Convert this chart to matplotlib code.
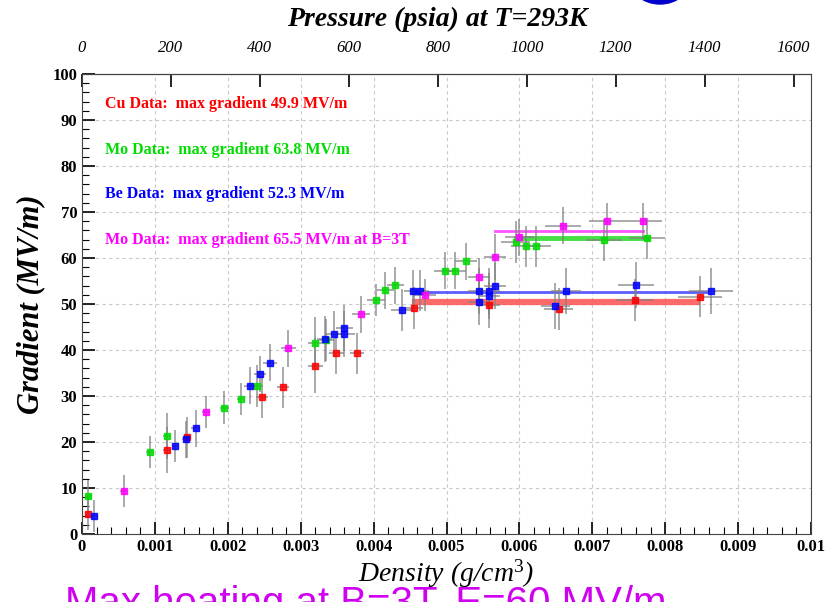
import numpy as np
import matplotlib.pyplot as plt
from matplotlib.patches import Ellipse
from matplotlib.ticker import MultipleLocator

plt.rcParams['font.family'] = ['Liberation Serif', 'DejaVu Serif']
plt.rcParams['mathtext.fontset'] = 'custom'
plt.rcParams['mathtext.rm'] = 'Liberation Serif'
plt.rcParams['mathtext.it'] = 'Liberation Serif:italic'

# Cu data (red)
cu_d = [0.000086, 0.00116, 0.00144, 0.00247, 0.00276, 0.0032, 0.00349, 0.00377,
        0.00456, 0.00558, 0.00654, 0.00758, 0.00848]
cu_g = [4.4, 18.3, 21.0, 29.8, 31.9, 36.6, 39.3, 39.3, 49.1, 49.8, 48.9, 50.9, 51.6]
cu_dx = [0.00005, 0.00005, 0.00005, 0.00008, 0.00008, 0.0001, 0.0001, 0.0001,
         0.00012, 0.00015, 0.0002, 0.00025, 0.0003]
cu_dy = [3.5, 5.0, 4.5, 4.5, 4.5, 6.0, 4.5, 4.5, 4.5, 5.0, 4.5, 4.5, 4.5]

# Mo data (green)
mo_d = [0.000086, 0.00093, 0.00116, 0.00195, 0.00218, 0.0024, 0.0032, 0.00335,
        0.00403, 0.00416, 0.0043, 0.00498, 0.00512, 0.00527, 0.00595, 0.00609,
        0.00623, 0.00716, 0.00775]
mo_g = [8.3, 17.9, 21.2, 27.5, 29.3, 32.2, 41.6, 42.2, 50.9, 53.0, 54.1, 57.2,
        57.2, 59.3, 63.5, 62.5, 62.5, 63.9, 64.3]
mo_dx = [0.00005, 0.00005, 0.00005, 0.00006, 0.00006, 0.00008, 0.0001, 0.0001,
         0.00012, 0.00012, 0.00012, 0.00015, 0.00015, 0.00015, 0.0002, 0.0002,
         0.0002, 0.00025, 0.00025]
mo_dy = [3.5, 3.5, 5.0, 3.5, 3.5, 4.5, 5.5, 4.5, 3.5, 4.0, 4.0, 4.0, 4.0, 4.0,
         4.5, 4.5, 4.5, 4.5, 4.5]

# Be data (blue)
be_d = [0.00017, 0.00128, 0.00142, 0.00156, 0.0023, 0.00244, 0.00258, 0.00333,
        0.00346, 0.0036, 0.0036, 0.00439, 0.00454, 0.00464, 0.00544, 0.00544,
        0.00558, 0.00558, 0.00567, 0.00649, 0.00664, 0.0076, 0.00863]
be_g = [3.9, 19.1, 20.6, 23.0, 32.2, 34.8, 37.2, 42.4, 43.4, 44.7, 43.4, 48.7,
        52.9, 52.9, 52.9, 50.5, 52.9, 51.7, 54.0, 49.6, 52.9, 54.1, 52.9]
be_dx = [0.00005, 0.00005, 0.00005, 0.00006, 0.00008, 0.00008, 0.0001, 0.0001,
         0.00012, 0.00012, 0.00015, 0.00015, 0.00012, 0.00012, 0.00015, 0.00015,
         0.00015, 0.00015, 0.00015, 0.0002, 0.0002, 0.00025, 0.0003]
be_dy = [3.5, 3.5, 4.0, 4.0, 4.0, 4.0, 4.0, 5.0, 5.0, 5.0, 5.0, 4.5, 4.5, 4.5,
         5.0, 5.0, 5.0, 5.0, 5.0, 5.0, 5.0, 5.0, 5.0]

# Mo data at B=3T (magenta)
mb_d = [0.00057, 0.0017, 0.00283, 0.00383, 0.0047, 0.00544, 0.00567, 0.006,
        0.0066, 0.0072, 0.0077]
mb_g = [9.3, 26.5, 40.4, 47.8, 52.0, 55.9, 60.3, 64.5, 67.0, 68.0, 68.0]
mb_dx = [0.00005, 0.00006, 0.0001, 0.00012, 0.00015, 0.00015, 0.00015, 0.0002,
         0.00025, 0.00025, 0.00025]
mb_dy = [3.5, 3.5, 4.0, 4.0, 3.5, 4.0, 5.0, 4.0, 4.0, 4.0, 4.0]

# max gradient bands: (start density, end density, level)
cu_band = (0.00457, 0.00843, 50.5)
be_band = (0.00454, 0.00856, 52.6)
mo_band = (0.00595, 0.00775, 64.3)
mb_band = (0.00567, 0.00770, 65.8)

labels = ["Cu Data:  max gradient 49.9 MV/m",
          "Mo Data:  max gradient 63.8 MV/m",
          "Be Data:  max gradient 52.3 MV/m",
          "Mo Data:  max gradient 65.5 MV/m at B=3T"]
colors = ["#ff0000", "#00dd00", "#0000ff", "#ff00ff"]

psia_per_density = 1.0 / 6.1e-6

fig = plt.figure(figsize=(8.27, 6.02), dpi=100)
ax = fig.add_axes([82 / 827, 1 - 534 / 602, 729 / 827, 460 / 602])

# bands first, points on top
ax.plot(cu_band[:2], [cu_band[2]] * 2, color="#ff5050", lw=4.5, alpha=0.85, zorder=2)
ax.plot(be_band[:2], [be_band[2]] * 2, color="#4040ff", lw=2.0, alpha=0.85, zorder=2)
ax.plot(mo_band[:2], [mo_band[2]] * 2, color="#30dd30", lw=3.5, alpha=0.9, zorder=2)
ax.plot(mb_band[:2], [mb_band[2]] * 2, color="#ff40ff", lw=2.0, alpha=0.9, zorder=2)

series = [(cu_d, cu_g, cu_dx, cu_dy), (mo_d, mo_g, mo_dx, mo_dy),
          (be_d, be_g, be_dx, be_dy), (mb_d, mb_g, mb_dx, mb_dy)]
for (d, g, dx, dy), c in zip(series, colors):
    ax.errorbar(d, g, xerr=dx, yerr=dy, fmt='s', ms=4, mfc=c, mec=c,
                ecolor="#808080", elinewidth=1.1, capsize=0, alpha=0.85, zorder=3)

ax.set_xlim(0, 0.01)
ax.set_ylim(0, 100)
ax.xaxis.set_major_locator(MultipleLocator(0.001))
ax.xaxis.set_minor_locator(MultipleLocator(0.0002))
ax.yaxis.set_major_locator(MultipleLocator(10))
ax.yaxis.set_minor_locator(MultipleLocator(2))
ax.xaxis.set_major_formatter(plt.FuncFormatter(
    lambda v, p: "0" if v == 0 else ("0.01" if abs(v - 0.01) < 1e-9 else f"{v:.3f}")))
ax.tick_params(axis='both', which='major', direction='in', length=9, width=1.2,
               labelsize=12)
ax.tick_params(axis='both', which='minor', direction='in', length=5, width=0.8)
ax.tick_params(top=False, right=False, which='both')
for lab in ax.get_xticklabels() + ax.get_yticklabels():
    lab.set_fontweight('bold')
ax.grid(True, which='major', linestyle=(0, (3, 3)), color="#c8c8c8", lw=0.8)
for s in ax.spines.values():
    s.set_color("#444444")

ax.set_xlabel("Density (g/cm$^3$)", fontsize=20, fontstyle='italic', labelpad=2)
ax.set_ylabel("Gradient (MV/m)", fontsize=22, fontstyle='italic', fontweight='bold', labelpad=5)

top = ax.secondary_xaxis('top', functions=(lambda d: d * psia_per_density,
                                           lambda p: p / psia_per_density))
top.xaxis.set_major_locator(MultipleLocator(200))
top.tick_params(direction='in', length=9, width=1.2, labelsize=12, pad=13)
for lab in top.get_xticklabels():
    lab.set_fontstyle('italic')
top.set_xlabel("Pressure (psia) at T=293K", fontsize=20, fontstyle='italic',
               fontweight='bold', labelpad=10)
top.xaxis.label.set_x(0.487)

ypos = [104, 150, 194, 240]
for t, c, yp in zip(labels, colors, ypos):
    fig.text(105 / 827, 1 - yp / 602, t, color=c, fontsize=11.5, fontweight='bold',
             va='center', ha='left')

# slide decorations cut by the frame
fig.patches.append(Ellipse((660 / 827, 1 + 24 / 602), 64 / 827, 56 / 602,
                           color="#0000cc", transform=fig.transFigure, figure=fig))
fig.text(65 / 827, 1 - 585 / 602, "Max heating at B=3T, E=60 MV/m",
         family='Liberation Sans', fontsize=29, color="#d000f0", va='top', ha='left',
         zorder=-1)

fig.savefig("out.png", dpi=100)
